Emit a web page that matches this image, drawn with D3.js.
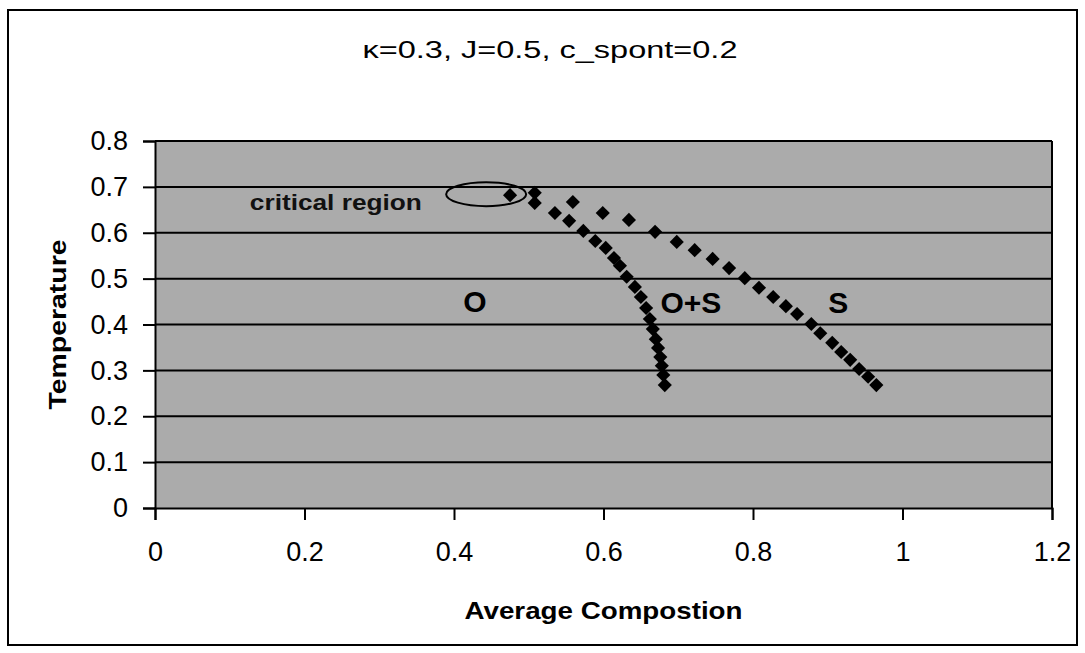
<!DOCTYPE html>
<html>
<head>
<meta charset="utf-8">
<script src="https://cdn.jsdelivr.net/npm/d3@7"></script>
<style>
  html, body { margin: 0; padding: 0; background: #fff; }
  svg { display: block; }
</style>
</head>
<body>
<div id="chart"></div>
<script>
// phase boundary points: [composition, temperature]
const oBoundary = [
  [0.508, 0.665], [0.535, 0.643], [0.554, 0.626], [0.573, 0.604], [0.589, 0.582],
  [0.603, 0.567], [0.614, 0.545], [0.622, 0.528], [0.631, 0.504], [0.642, 0.482],
  [0.650, 0.460], [0.657, 0.436], [0.662, 0.412], [0.666, 0.390], [0.670, 0.368],
  [0.673, 0.349], [0.676, 0.329], [0.678, 0.310], [0.680, 0.290], [0.682, 0.268]
];
const sBoundary = [
  [0.475, 0.682], [0.508, 0.687], [0.559, 0.667], [0.599, 0.643], [0.634, 0.628],
  [0.669, 0.602], [0.698, 0.580], [0.722, 0.562], [0.746, 0.543], [0.768, 0.523],
  [0.789, 0.501], [0.808, 0.480], [0.827, 0.460], [0.844, 0.440], [0.859, 0.423],
  [0.878, 0.401], [0.890, 0.381], [0.906, 0.360], [0.918, 0.340], [0.930, 0.323],
  [0.942, 0.303], [0.954, 0.286], [0.965, 0.268]
];
const xTicks = [0, 0.2, 0.4, 0.6, 0.8, 1, 1.2];
const yTicks = [0, 0.1, 0.2, 0.3, 0.4, 0.5, 0.6, 0.7, 0.8];
const regionLabels = [
  { text: "O", x: 0.428, y: 0.445 },
  { text: "O+S", x: 0.717, y: 0.443 },
  { text: "S", x: 0.914, y: 0.443 }
];
const critical = { text: "critical region", x: 0.357, y: 0.663, cx: 0.443, cy: 0.684, rx: 0.0535, ry: 0.026 };

const W = 1085, H = 653;
const margin = { top: 141, right: 33, bottom: 145, left: 155 };
const iw = W - margin.left - margin.right;
const ih = H - margin.top - margin.bottom;

const svg = d3.select("#chart").append("svg")
  .attr("width", W)
  .attr("height", H);

// outer chart frame
svg.append("rect")
  .attr("x", 8).attr("y", 10)
  .attr("width", 1069).attr("height", 635)
  .attr("fill", "#fff")
  .attr("stroke", "#000")
  .attr("stroke-width", 2);

svg.append("text")
  .attr("x", 550).attr("y", 58)
  .attr("text-anchor", "middle")
  .attr("font-family", "Liberation Sans, Arial, sans-serif")
  .attr("font-size", 23)
  .attr("textLength", 375)
  .attr("lengthAdjust", "spacingAndGlyphs")
  .text("\u03ba=0.3, J=0.5, c_spont=0.2");

const g = svg.append("g")
  .attr("transform", `translate(${margin.left},${margin.top})`);

const x = d3.scaleLinear().domain([0, 1.2]).range([0, iw]);
const y = d3.scaleLinear().domain([0, 0.8]).range([ih, 0]);

g.append("rect")
  .attr("width", iw).attr("height", ih)
  .attr("fill", "#ababab");

// gridlines
g.selectAll("line.grid")
  .data(yTicks.filter(d => d > 0))
  .enter().append("line")
  .attr("class", "grid")
  .attr("x1", 0).attr("x2", iw)
  .attr("y1", d => y(d)).attr("y2", d => y(d))
  .attr("stroke", "#000")
  .attr("stroke-width", 2);

g.append("line")
  .attr("x1", iw).attr("x2", iw)
  .attr("y1", 0).attr("y2", ih)
  .attr("stroke", "#000").attr("stroke-width", 2);

const tickFont = "Liberation Sans Narrow, Arial Narrow, sans-serif";

const yAxis = g.append("g")
  .call(d3.axisLeft(y).tickValues(yTicks).tickSize(12).tickPadding(15).tickFormat(d => String(d)));
const xAxis = g.append("g")
  .attr("transform", `translate(0,${ih})`)
  .call(d3.axisBottom(x).tickValues(xTicks).tickSize(12).tickPadding(22).tickFormat(d => String(d)));

[xAxis, yAxis].forEach(a => {
  a.select(".domain").attr("stroke", "#000").attr("stroke-width", 2);
  a.selectAll(".tick line").attr("stroke", "#000").attr("stroke-width", 2);
  a.selectAll(".tick text")
    .attr("fill", "#000")
    .attr("font-family", tickFont)
    .attr("font-size", 27);
});

// critical region annotation
g.append("ellipse")
  .attr("cx", x(critical.cx)).attr("cy", y(critical.cy))
  .attr("rx", x(critical.rx) - x(0)).attr("ry", y(0) - y(critical.ry))
  .attr("fill", "none")
  .attr("stroke", "#000")
  .attr("stroke-width", 2);

g.append("text")
  .attr("x", x(critical.x)).attr("y", y(critical.y))
  .attr("text-anchor", "end")
  .attr("dominant-baseline", "middle")
  .attr("font-family", "Liberation Sans, Arial, sans-serif")
  .attr("font-weight", "bold")
  .attr("font-size", 22)
  .attr("textLength", 172)
  .attr("lengthAdjust", "spacingAndGlyphs")
  .attr("fill", "#111")
  .text(critical.text);

const diamond = d3.symbol().type(d3.symbolSquare).size(100);

g.selectAll("path.pt")
  .data(oBoundary.concat(sBoundary))
  .enter().append("path")
  .attr("class", "pt")
  .attr("d", diamond)
  .attr("transform", d => `translate(${x(d[0])},${y(d[1])}) rotate(45)`)
  .attr("fill", "#000");

g.selectAll("text.region")
  .data(regionLabels)
  .enter().append("text")
  .attr("class", "region")
  .attr("x", d => x(d.x)).attr("y", d => y(d.y))
  .attr("text-anchor", "middle")
  .attr("dominant-baseline", "middle")
  .attr("font-family", "Liberation Sans, Arial, sans-serif")
  .attr("font-weight", "bold")
  .attr("font-size", 30)
  .attr("fill", "#000")
  .text(d => d.text);

// axis titles
svg.append("text")
  .attr("transform", `translate(66,${margin.top + y(0.4)}) rotate(-90)`)
  .attr("text-anchor", "middle")
  .attr("font-family", "Liberation Sans, Arial, sans-serif")
  .attr("font-weight", "bold")
  .attr("font-size", 24)
  .attr("textLength", 170)
  .attr("lengthAdjust", "spacingAndGlyphs")
  .text("Temperature");

svg.append("text")
  .attr("x", margin.left + x(0.6)).attr("y", 619)
  .attr("text-anchor", "middle")
  .attr("font-family", "Liberation Sans, Arial, sans-serif")
  .attr("font-weight", "bold")
  .attr("font-size", 24)
  .attr("textLength", 278)
  .attr("lengthAdjust", "spacingAndGlyphs")
  .text("Average Compostion");
</script>
</body>
</html>
